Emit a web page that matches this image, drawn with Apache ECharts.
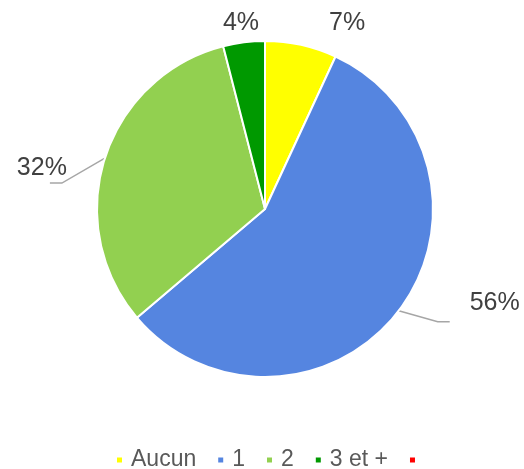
<!DOCTYPE html>
<html lang="fr">

<head>
    <meta charset="UTF-8">
    <title>Répartition</title>
    <style>
        * {
            margin: 0;
            padding: 0;
        }

        html,
        body {
            height: 100%;
            background: #fff;
        }

        #box {
            width: 524px;
            height: 469px;
        }
    </style>
    <script src="https://cdn.jsdelivr.net/npm/echarts@6/dist/echarts.min.js"></script>
</head>

<body>
    <div id="box"></div>

    <script>
        // données
        var categories = ['Aucun', '1', '2', '3 et +', ' '];
        var values = [6.9, 56.9, 32.2, 4.0, 0];
        var pctLabels = ['7%', '56%', '32%', '4%', ''];
        var colors = ['#FFFF00', '#5585E0', '#92D050', '#009900', '#FF0000'];

        // décalage des étiquettes par rapport au bord du secteur
        // [textX, textY, align, points de la ligne relatifs]
        var labelPlace = [
            [46, -22, 'center', null],
            [71, -8, 'left', [[39, 11], [51, 11]]],
            [-38, 10, 'right', [[-43, 25], [-55, 25]]],
            [-3, -19, 'center', null],
            [0, 0, 'center', null]
        ];

        var data = categories.map(function (c, i) {
            var item = { name: c, value: values[i], itemStyle: { color: colors[i] } };
            if (i === 4) {
                item.label = { show: false };
                item.labelLine = { show: false };
            }
            return item;
        });

        var myChart = echarts.init(document.getElementById('box'));

        myChart.setOption({
            animation: false,
            legend: {
                left: 115,
                top: 447,
                padding: 0,
                itemWidth: 7,
                itemHeight: 7,
                itemGap: 20,
                icon: 'rect',
                textStyle: {
                    color: '#595959',
                    fontSize: 23,
                    fontFamily: 'Liberation Sans, Arial, sans-serif',
                    lineHeight: 26,
                    padding: [0, 0, 0, 3]
                },
                data: categories.map(function (c, i) {
                    return { name: c, itemStyle: { color: colors[i] } };
                })
            },
            series: [{
                type: 'pie',
                center: [265, 209],
                radius: 168,
                startAngle: 90,
                clockwise: true,
                avoidLabelOverlap: false,
                data: data,
                itemStyle: {
                    borderColor: '#fff',
                    borderWidth: 2
                },
                label: {
                    show: true,
                    position: 'outside',
                    color: '#404040',
                    fontSize: 25,
                    fontFamily: 'Liberation Sans, Arial, sans-serif',
                    formatter: function (p) {
                        return pctLabels[p.dataIndex];
                    }
                },
                labelLine: {
                    show: true,
                    length: 20,
                    length2: 10,
                    lineStyle: { color: '#A6A6A6', width: 1.5 }
                },
                labelLayout: function (p) {
                    var pl = labelPlace[p.dataIndex];
                    var pts = p.labelLinePoints;
                    if (!pts) return {};
                    var p0 = pts[0];
                    var line = [p0, p0, p0];
                    if (pl[3]) {
                        line = [p0,
                            [p0[0] + pl[3][0][0], p0[1] + pl[3][0][1]],
                            [p0[0] + pl[3][1][0], p0[1] + pl[3][1][1]]];
                    }
                    return {
                        x: p0[0] + pl[0],
                        y: p0[1] + pl[1],
                        align: pl[2],
                        verticalAlign: 'middle',
                        labelLinePoints: line
                    };
                }
            }]
        });

        window.onresize = function () {
            myChart.resize();
        };
    </script>
</body>

</html>
